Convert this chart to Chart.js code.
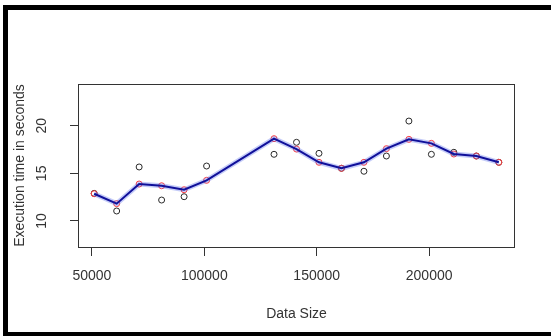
<!DOCTYPE html>
<html>
<head>
<meta charset="utf-8">
<script src="https://cdn.jsdelivr.net/npm/chart.js@4"></script>
<style>
  html, body { margin: 0; padding: 0; background: #fff; }
</style>
</head>
<body>
<canvas id="myChart" width="551" height="336"></canvas>
<script>
const dataSizes = [51000, 61000, 71000, 81000, 91000, 101000, 131000, 141000, 151000,
                   161000, 171000, 181000, 191000, 201000, 211000, 221000, 231000];
const measuredTimes = [12.9, 11.05, 15.67, 12.2, 12.55, 15.77, 17.0, 18.26, 17.1,
                       15.53, 15.22, 16.82, 20.49, 17.0, 17.21, 16.82, 16.16];
const smoothedTimes = [12.86, 11.82, 13.88, 13.7, 13.28, 14.27, 18.64, 17.55, 16.16,
                       15.53, 16.16, 17.59, 18.57, 18.15, 17.03, 16.82, 16.16];
const xTicks = [50000, 100000, 150000, 200000];
const yTicks = [10, 15, 20];
const xTitle = 'Data Size';
const yTitle = 'Execution time in seconds';

const FONT = '14px "Liberation Sans", Arial, sans-serif';
const INK = '#333';

const toPoints = (ys) => dataSizes.map((x, i) => ({ x: x, y: ys[i] }));

// frame, plot box, and R-style text (rotated y labels)
const rStyle = {
    id: 'rStyle',
    beforeDraw(chart) {
        const ctx = chart.ctx;
        ctx.save();
        ctx.fillStyle = '#fff';
        ctx.fillRect(0, 0, chart.width, chart.height);
        ctx.fillStyle = '#000';
        ctx.fillRect(3, 5, 5, 331);
        ctx.fillRect(3, 5, 548, 5);
        ctx.fillRect(3, 332, 548, 4);
        ctx.restore();
    },
    afterDraw(chart) {
        const { ctx, chartArea: a, scales: { x, y } } = chart;
        ctx.save();
        ctx.strokeStyle = INK;
        ctx.lineWidth = 1;
        ctx.strokeRect(a.left + 0.5, a.top + 0.5, a.right - a.left - 1, a.bottom - a.top);

        ctx.fillStyle = INK;
        ctx.font = FONT;
        ctx.textAlign = 'center';
        ctx.textBaseline = 'alphabetic';
        xTicks.forEach(v => ctx.fillText(String(v), x.getPixelForValue(v), 280));
        ctx.fillText(xTitle, (a.left + a.right) / 2, 318);

        yTicks.forEach(v => {
            ctx.save();
            ctx.translate(46, y.getPixelForValue(v));
            ctx.rotate(-Math.PI / 2);
            ctx.fillText(String(v), 0, 0);
            ctx.restore();
        });
        ctx.save();
        ctx.translate(24, (a.top + a.bottom) / 2);
        ctx.rotate(-Math.PI / 2);
        ctx.fillText(yTitle, 0, 0);
        ctx.restore();
        ctx.restore();
    }
};

const data = {
    datasets: [
        {
            label: 'smooth',
            data: toPoints(smoothedTimes),
            borderColor: '#10109a',
            borderWidth: 2,
            pointRadius: 0,
            showLine: true,
            order: 0
        },
        {
            label: 'smooth halo',
            data: toPoints(smoothedTimes),
            borderColor: 'rgba(90, 110, 235, 0.35)',
            borderWidth: 5,
            pointRadius: 0,
            showLine: true,
            order: 1
        },
        {
            label: 'fitted',
            data: toPoints(smoothedTimes),
            borderColor: '#ff3b3b',
            backgroundColor: 'rgba(0,0,0,0)',
            pointRadius: 3,
            pointBorderWidth: 1,
            showLine: false,
            order: 2
        },
        {
            label: 'measured',
            data: toPoints(measuredTimes),
            borderColor: '#2a2a2a',
            backgroundColor: 'rgba(0,0,0,0)',
            pointRadius: 3,
            pointBorderWidth: 1,
            showLine: false,
            order: 3
        }
    ]
};

const options = {
    responsive: false,
    animation: false,
    devicePixelRatio: 1,
    layout: { padding: { left: 0, top: 84, right: 36, bottom: 0 } },
    scales: {
        x: {
            type: 'linear',
            min: 43800,
            max: 238200,
            afterFit: (s) => { s.height = 89; },
            afterBuildTicks: (s) => { s.ticks = xTicks.map(v => ({ value: v })); },
            ticks: { display: false },
            grid: { drawOnChartArea: false, drawTicks: true, tickLength: 9, tickColor: INK, lineWidth: 1 },
            border: { display: false }
        },
        y: {
            type: 'linear',
            min: 7.27,
            max: 24.38,
            afterFit: (s) => { s.width = 78; },
            afterBuildTicks: (s) => { s.ticks = yTicks.map(v => ({ value: v })); },
            ticks: { display: false },
            grid: { drawOnChartArea: false, drawTicks: true, tickLength: 8, tickColor: INK, lineWidth: 1 },
            border: { display: false }
        }
    },
    plugins: {
        legend: { display: false },
        tooltip: { enabled: false }
    }
};

const myChart = new Chart(document.getElementById('myChart').getContext('2d'), {
    type: 'scatter',
    data: data,
    options: options,
    plugins: [rStyle]
});
</script>
</body>
</html>
